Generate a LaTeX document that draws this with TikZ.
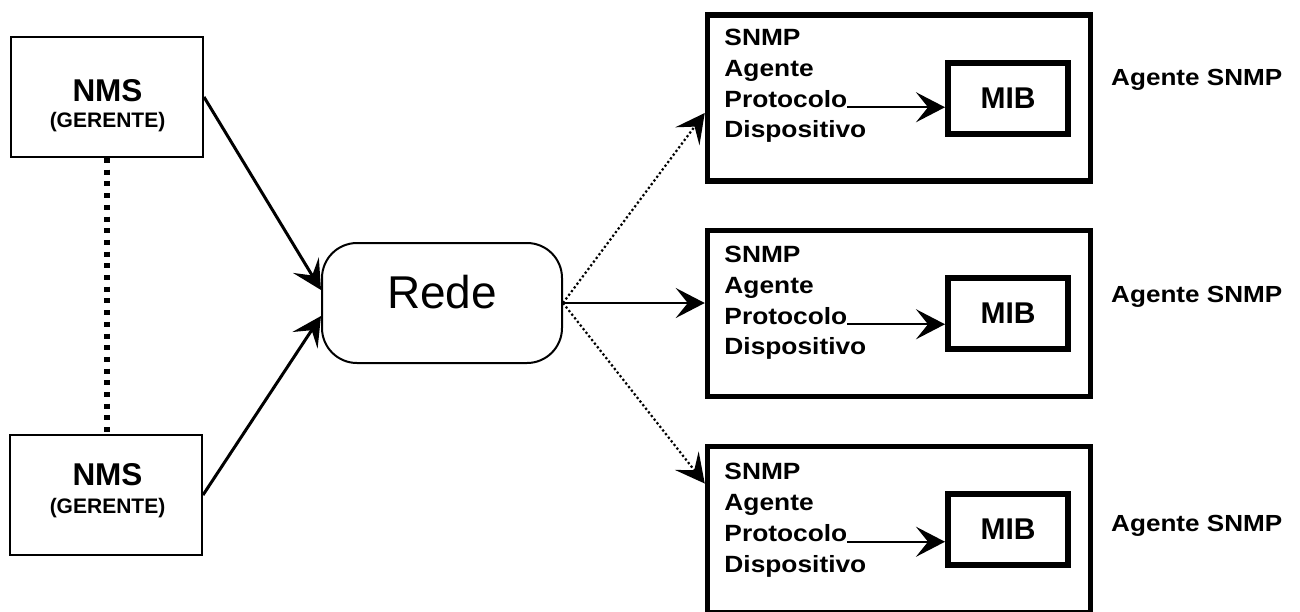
\documentclass[tikz,border=0pt]{standalone}
\usepackage{fontspec}
\setmainfont{Liberation Sans}
\newfontfamily\widesans[FakeStretch=1.12]{Liberation Sans}
\usetikzlibrary{arrows.meta,calc}

\begin{document}
\begin{tikzpicture}[x=1pt,y=-1pt,
  >={Stealth[length=29pt,width=30pt,inset=12pt]},
  nmsbox/.style={draw, line width=2pt, minimum width=192pt, minimum height=120pt, inner sep=0pt},
  nmsbig/.style={font=\bfseries\fontsize{31.5}{31.5}\selectfont, inner sep=0pt, anchor=base},
  nmssmall/.style={font=\bfseries\fontsize{21}{21}\selectfont, inner sep=0pt, anchor=base},
  netbox/.style={draw, line width=2pt, rounded corners=35pt, minimum width=240pt, minimum height=120pt,
    inner sep=0pt, text height=34pt, text depth=24pt, font=\fontsize{46}{46}\selectfont},
  agentbox/.style={draw, line width=5.5pt, minimum width=383pt, minimum height=166pt, inner sep=0pt},
  mibbox/.style={draw, line width=6pt, minimum width=120pt, minimum height=71pt, inner sep=0pt,
    font=\bfseries\fontsize{30}{30}\selectfont},
  agtext/.style={font=\widesans\bfseries\fontsize{23.5}{23.5}\selectfont, inner sep=0pt, anchor=base west},
  aglabel/.style={font=\widesans\bfseries\fontsize{23.3}{23.3}\selectfont, inner sep=0pt, anchor=base west},
  link/.style={->, line width=3pt},
  dotlink/.style={->, line width=2.2pt, dash pattern=on 2.2pt off 2.4pt},
  managerlink/.style={line width=5.5pt, dash pattern=on 5pt off 6.7pt}
]
\useasboundingbox (0,0) rectangle (1300,611);

% Managers
\node[nmsbox] (nms1) at (107,97) {};
\node[nmsbig] (nms1a) at (107.5,101.5) {NMS};
\node[nmssmall] (nms1b) at (107.5,127) {(GERENTE)};

\node[nmsbox] (nms2) at (106,495) {};
\node[nmsbig] (nms2a) at (107.5,485) {NMS};
\node[nmssmall] (nms2b) at (107.5,513) {(GERENTE)};

\draw[managerlink] (nms1.south -| 107,0) -- (nms2.north -| 107,0);

% Network
\node[netbox] (rede) at (442,303) {Rede};

\draw[link] (nms1.east) -- ([yshift=13pt]rede.west);
\draw[link] (nms2.east) -- ([yshift=-13pt]rede.west);

% Agents
\foreach \i/\yc/\ly/\dy in {1/98/85/0, 2/313.5/302/1.5, 3/529.5/531/3}{
  \node[agentbox] (ag\i) at (899,\yc) {};
  \node[mibbox] (mib\i) at (1008,\yc) {MIB};
  \node[agtext] (snmp\i) at ($(ag\i.north west)+(19.5,33+\dy)$) {SNMP};
  \node[agtext] (agt\i) at ($(ag\i.north west)+(19.5,64+\dy)$) {Agente};
  \node[agtext] (prot\i) at ($(ag\i.north west)+(19.5,95+\dy)$) {Protocolo};
  \node[agtext] (disp\i) at ($(ag\i.north west)+(19.5,125.5+\dy)$) {Dispositivo};
  \draw[->, line width=2.2pt] (prot\i.base east) -- (prot\i.base east -| mib\i.west);
  \node[aglabel] (lab\i) at (1111,\ly) {Agente SNMP};
}

\draw[dotlink] (rede.east) -- ([yshift=-15pt]ag1.west);
\draw[->, line width=2.2pt] (rede.east) -- (rede.east -| ag2.west);
\draw[dotlink] (rede.east) -- ([yshift=46pt]ag3.west);
\end{tikzpicture}
\end{document}
